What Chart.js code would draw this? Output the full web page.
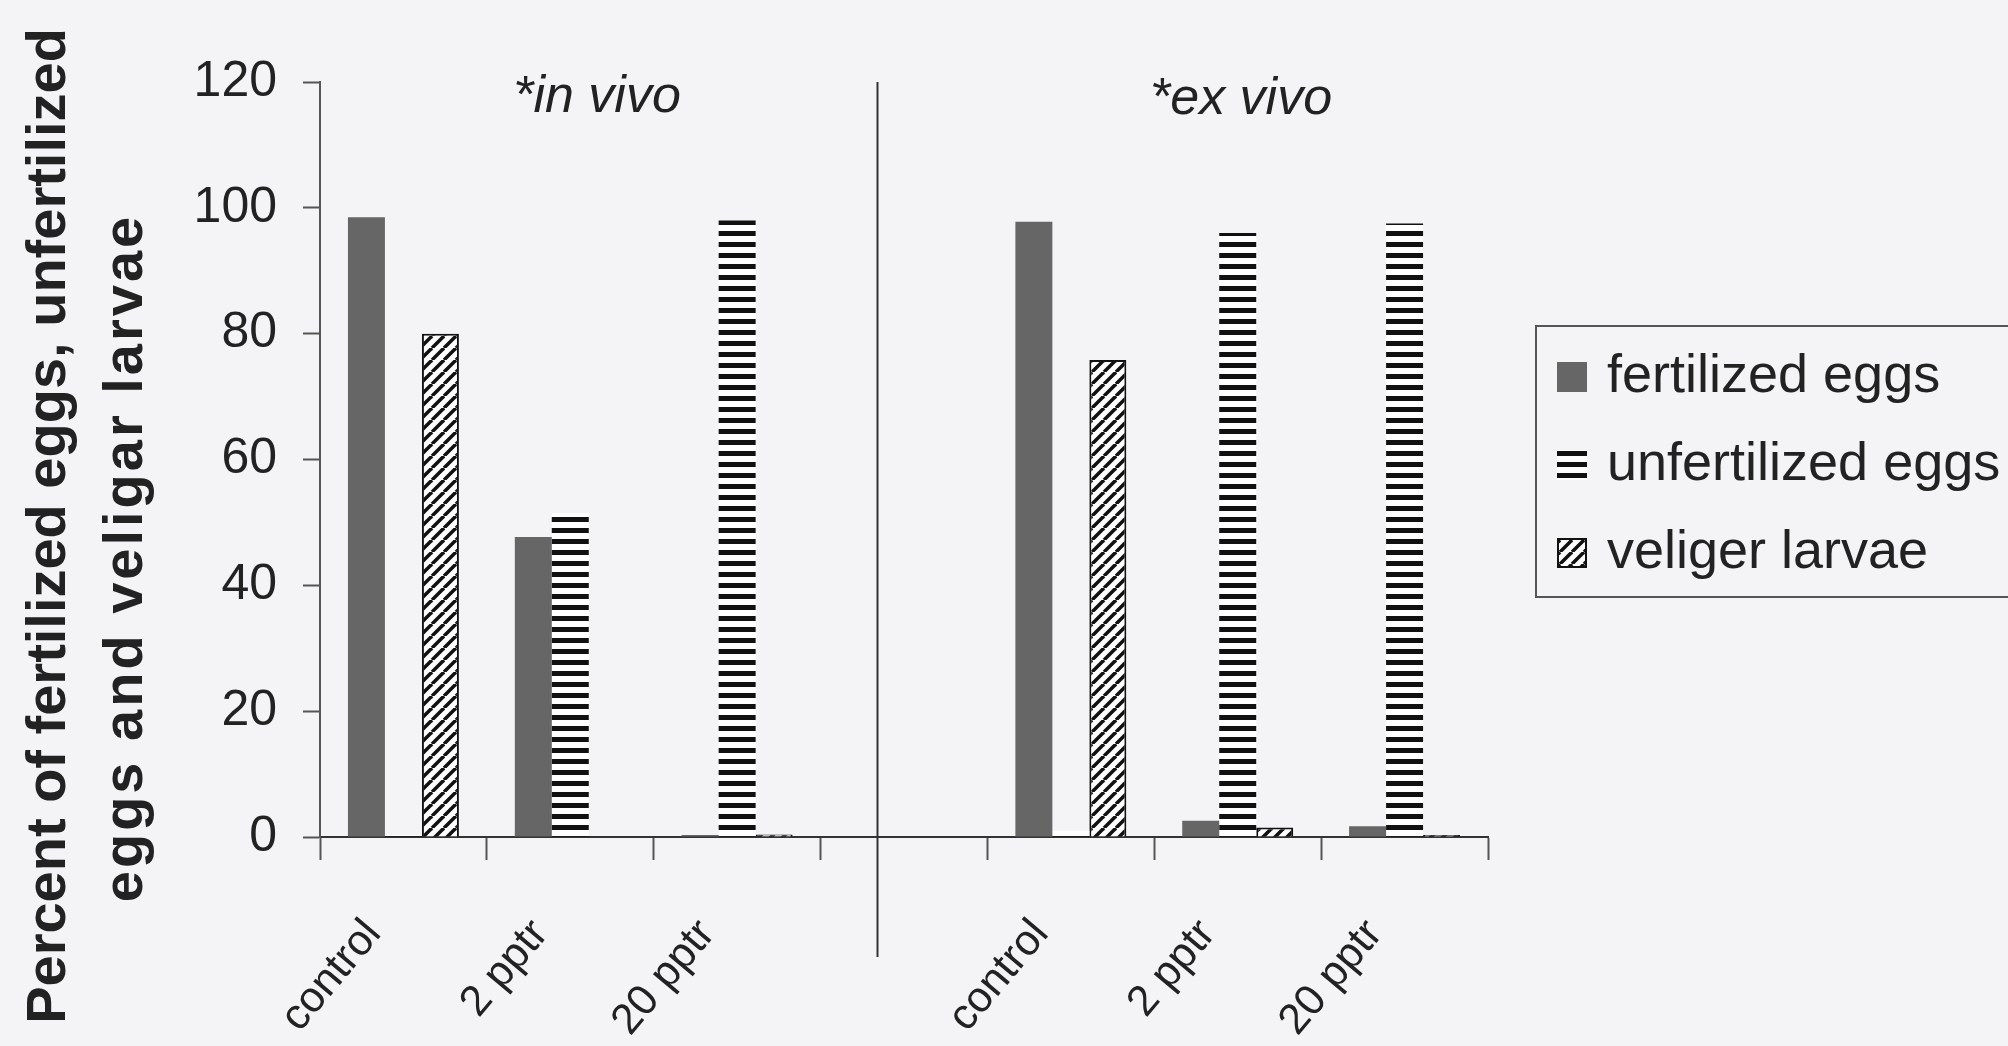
<!DOCTYPE html>
<html lang="en">
<head>
<meta charset="UTF-8">
<title>Fertilized eggs, unfertilized eggs and veliger larvae</title>
<script src="https://cdn.jsdelivr.net/npm/chart.js@4.4.1/dist/chart.umd.min.js"></script>
<style>
    html, body {
        margin: 0;
        padding: 0;
        background: #f4f3f6;
        overflow: hidden;
    }
    #wrap {
        width: 2008px;
        height: 1046px;
    }
</style>
</head>
<body>
<div id="wrap"><canvas id="chart" width="2008" height="1046"></canvas></div>
<script>
// data
const categories = ['control', '2 pptr', '20 pptr', '', 'control', '2 pptr', '20 pptr'];
const seriesNames = ['fertilized eggs', 'unfertilized eggs', 'veliger larvae'];
const fertilized = [98.5, 47.7, 0.3, null, 97.8, 2.6, 1.7];
const unfertilized = [0.3, 51.5, 98.0, null, 1.0, 96.0, 97.5];
const veliger = [80.0, 0, 0.4, null, 75.8, 1.5, 0.3];
const yTicks = [0, 20, 40, 60, 80, 100, 120];
const groupTitles = ['*in vivo', '*ex vivo'];
const yTitle = ['Percent of fertilized eggs, unfertilized', 'eggs and veligar larvae'];

const FONT = '"Liberation Sans", Arial, sans-serif';

// fill patterns like the old b/w excel chart
function makePattern(size, draw) {
    const c = document.createElement('canvas');
    c.width = size;
    c.height = size;
    const g = c.getContext('2d');
    draw(g, size);
    return g.createPattern(c, 'repeat');
}

const grayFill = '#666666';

const hStripes = makePattern(11, (g, s) => {
    g.fillStyle = '#ffffff';
    g.fillRect(0, 0, s, s);
    g.fillStyle = '#111111';
    g.fillRect(0, 0, s, 5);
});

// wide upward diagonal ( / )
const diagStripes = makePattern(12, (g, s) => {
    g.fillStyle = '#ffffff';
    g.fillRect(0, 0, s, s);
    g.strokeStyle = '#111111';
    g.lineWidth = 3.5;
    for (let k = -1; k <= 1; k++) {
        g.beginPath();
        g.moveTo(k * s, s);
        g.lineTo(k * s + s, 0);
        g.stroke();
    }
});

const fills = [grayFill, hStripes, diagStripes];

// separator, group titles, y title and boxed legend
const decor = {
    id: 'decor',
    afterDraw(chart) {
        const { ctx, chartArea } = chart;
        const x = chart.scales.x;
        const y = chart.scales.y;
        ctx.save();

        // vertical line between in vivo / ex vivo
        const sx = Math.round(x.getPixelForValue(2.84)) + 0.5;
        ctx.strokeStyle = '#333333';
        ctx.lineWidth = 2;
        ctx.beginPath();
        ctx.moveTo(sx, chartArea.top);
        ctx.lineTo(sx, y.bottom + 120);
        ctx.stroke();

        // group titles
        ctx.fillStyle = '#222222';
        ctx.font = 'italic 52px ' + FONT;
        ctx.textAlign = 'center';
        ctx.textBaseline = 'middle';
        ctx.fillText(groupTitles[0], x.getPixelForValue(1.16), chartArea.top + 16);
        ctx.fillText(groupTitles[1], x.getPixelForValue(5.02), chartArea.top + 18);

        // y axis title, two lines, rotated
        ctx.font = 'bold 56px ' + FONT;
        ctx.save();
        ctx.translate(50, 526);
        ctx.rotate(-Math.PI / 2);
        ctx.fillText(yTitle[0], 0, 0);
        ctx.restore();
        ctx.save();
        ctx.translate(127, 558);
        ctx.rotate(-Math.PI / 2);
        ctx.letterSpacing = '3px';
        ctx.fillText(yTitle[1], 0, 0);
        ctx.letterSpacing = '0px';
        ctx.restore();

        // legend box
        ctx.strokeStyle = '#555555';
        ctx.lineWidth = 2;
        ctx.strokeRect(1536, 326, 500, 271);
        ctx.font = '54px ' + FONT;
        ctx.textAlign = 'left';
        seriesNames.forEach((name, i) => {
            const cy = 377 + i * 88;
            ctx.fillStyle = fills[i];
            ctx.fillRect(1557, cy - 15, 30, 30);
            if (i === 2) {
                ctx.strokeStyle = '#111111';
                ctx.strokeRect(1558, cy - 14, 28, 28);
            }
            ctx.fillStyle = '#222222';
            ctx.fillText(name, 1607, cy);
        });

        ctx.restore();
    }
};

const ctx = document.getElementById('chart').getContext('2d');
new Chart(ctx, {
    type: 'bar',
    data: {
        labels: categories,
        datasets: [
            { label: seriesNames[0], data: fertilized, backgroundColor: fills[0], borderWidth: 0 },
            { label: seriesNames[1], data: unfertilized, backgroundColor: fills[1], borderWidth: 0 },
            { label: seriesNames[2], data: veliger, backgroundColor: fills[2], borderColor: '#111111', borderWidth: 2 }
        ]
    },
    options: {
        responsive: false,
        animation: false,
        events: [],
        categoryPercentage: 0.665,
        barPercentage: 1.0,
        layout: {
            padding: { left: 0, right: 520, top: 82, bottom: 0 }
        },
        plugins: {
            legend: { display: false },
            tooltip: { enabled: false }
        },
        scales: {
            x: {
                afterFit: s => { s.height = 209; },
                grid: {
                    offset: true,
                    drawOnChartArea: false,
                    drawTicks: true,
                    tickLength: 23,
                    tickWidth: 2,
                    tickColor: '#555555'
                },
                border: { display: true, color: '#333333', width: 2 },
                ticks: {
                    autoSkip: false,
                    minRotation: 50,
                    maxRotation: 50,
                    padding: 50,
                    labelOffset: -30,
                    color: '#222222',
                    font: { family: FONT, size: 43 }
                }
            },
            y: {
                min: yTicks[0],
                max: yTicks[yTicks.length - 1],
                afterFit: s => { s.width = 320; },
                afterBuildTicks: s => { s.ticks = yTicks.map(v => ({ value: v })); },
                grid: {
                    drawOnChartArea: false,
                    drawTicks: true,
                    tickLength: 17,
                    tickWidth: 2,
                    tickColor: '#555555'
                },
                border: { display: true, color: '#555555', width: 2 },
                ticks: {
                    padding: 26,
                    color: '#222222',
                    font: { family: FONT, size: 50 }
                }
            }
        }
    },
    plugins: [decor]
});
</script>
</body>
</html>
